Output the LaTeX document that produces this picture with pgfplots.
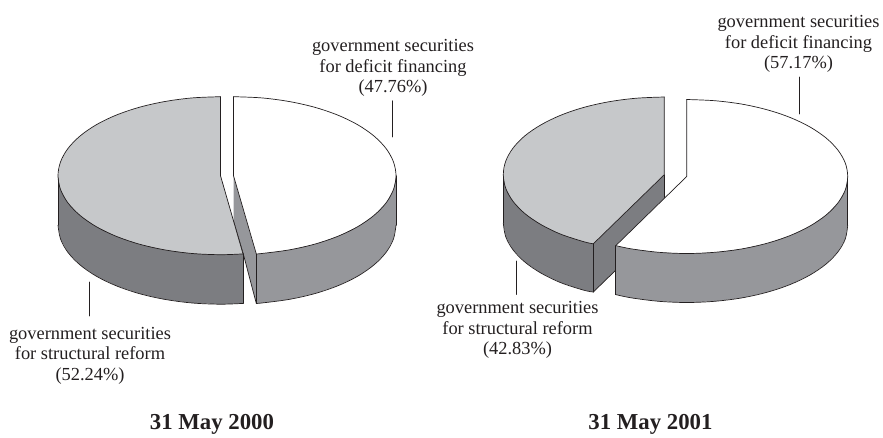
\documentclass[border=0pt]{standalone}
\usepackage{fontspec}
\setmainfont{Liberation Serif}
\usepackage{pgfplots}
\pgfplotsset{compat=1.18}
\definecolor{ink}{HTML}{231F20}
\definecolor{lgray}{HTML}{C6C8CA}
\definecolor{dgray}{HTML}{7C7D81}
\definecolor{mgray}{HTML}{96979B}
\tikzset{edge/.style={line width=0.7pt,color=ink,line join=round,line cap=round},
  lab/.style={align=center,anchor=center,text=ink,inner sep=0pt,font=\fontsize{18.4}{20.5}\selectfont},
  ttl/.style={anchor=base,text=ink,inner sep=0pt,font=\fontsize{22.8}{24}\selectfont\bfseries}}
\newcommand{\face}[2]{\addplot[fill=#1,draw=none,mark=none] coordinates {#2};}
\newcommand{\arc}[1]{\addplot[edge,smooth,tension=0.55,mark=none] coordinates {#1};}
\newcommand{\seg}[1]{\addplot[edge,sharp plot,mark=none] coordinates {#1};}
\begin{document}
\begin{tikzpicture}
\path[use as bounding box] (0,0) rectangle (883pt,437pt);
\begin{axis}[at={(0,0)},anchor=south west,scale only axis,width=883pt,height=437pt,
  xmin=0,xmax=883,ymin=0,ymax=437,y dir=reverse,hide axis,clip=false]

% ---- 31 May 2000: facet of the white slice
\face{mgray}{(233.5,175.7)(256.3,253.9)(256.3,303.4)(243.3,254)(233.5,221)}
\seg{(233.5,221)(243.3,254)(256.3,303.4)}
% gray slice, side
\face{dgray}{(58,175.7)(58,225.2)(60.5,238.9)(67.8,252.2)(79.8,264.7)(96,276)(116,285.7)(139.2,293.6)(164.9,299.4)(192.3,303)(220.5,304.2)(243,303.4)(243,253.9)(220.5,175.7)}
\seg{(58,175.7)(58,225.2)}
\arc{(58,225.2)(60.5,238.9)(67.8,252.2)(79.8,264.7)(96,276)(116,285.7)(139.2,293.6)(164.9,299.4)(192.3,303)(220.5,304.2)(243,303.4)}
\seg{(243,253.9)(243,303.4)}
% gray slice, top
\face{lgray}{(220.5,175.7)(220.5,96.7)(192.3,97.9)(164.9,101.5)(139.2,107.3)(116,115.2)(96,124.9)(79.8,136.2)(67.8,148.7)(60.5,162)(58,175.7)(60.5,189.4)(67.8,202.7)(79.8,215.2)(96,226.5)(116,236.2)(139.2,244.1)(164.9,249.9)(192.3,253.5)(220.5,254.7)(243,253.9)}
\arc{(220.5,96.7)(192.3,97.9)(164.9,101.5)(139.2,107.3)(116,115.2)(96,124.9)(79.8,136.2)(67.8,148.7)(60.5,162)(58,175.7)(60.5,189.4)(67.8,202.7)(79.8,215.2)(96,226.5)(116,236.2)(139.2,244.1)(164.9,249.9)(192.3,253.5)(220.5,254.7)(243,253.9)}
\seg{(220.5,96.7)(220.5,175.7)(243,253.9)}
% white slice, side
\face{mgray}{(396,175.7)(396,225.2)(393.5,238.9)(386.2,252.2)(374.2,264.7)(358,276)(338,285.7)(314.8,293.6)(289.1,299.4)(261.7,303)(256.3,303.4)(256.3,253.9)(233.5,175.7)}
\seg{(396,175.7)(396,225.2)}
\arc{(396,225.2)(393.5,238.9)(386.2,252.2)(374.2,264.7)(358,276)(338,285.7)(314.8,293.6)(289.1,299.4)(261.7,303)(256.3,303.4)}
\seg{(256.3,253.9)(256.3,303.4)}
% white slice, top
\face{white}{(233.5,175.7)(233.5,96.7)(261.7,97.9)(289.1,101.5)(314.8,107.3)(338,115.2)(358,124.9)(374.2,136.2)(386.2,148.7)(393.5,162)(396,175.7)(393.5,189.4)(386.2,202.7)(374.2,215.2)(358,226.5)(338,236.2)(314.8,244.1)(289.1,249.9)(261.7,253.5)(256.3,253.9)}
\arc{(233.5,96.7)(261.7,97.9)(289.1,101.5)(314.8,107.3)(338,115.2)(358,124.9)(374.2,136.2)(386.2,148.7)(393.5,162)(396,175.7)(393.5,189.4)(386.2,202.7)(374.2,215.2)(358,226.5)(338,236.2)(314.8,244.1)(289.1,249.9)(261.7,253.5)(256.3,253.9)}
\seg{(233.5,96.7)(233.5,175.7)(256.3,253.9)}

% ---- 31 May 2001: gray slice, inner facet
\face{dgray}{(664.3,174.7)(593.3,243.8)(593.3,292)(664.3,223)}
\seg{(664.3,174.7)(664.3,223)}
\seg{(593.3,292)(664.3,223)}
% gray slice, side
\face{dgray}{(503.3,174.7)(503.3,223.2)(505.7,236.7)(513,249.8)(524.9,262.1)(541,273.1)(560.8,282.7)(583.8,290.2)(593.3,292)(593.3,243.8)(664.3,174.7)}
\seg{(503.3,174.7)(503.3,223.2)}
\arc{(503.3,223.2)(505.7,236.7)(513,249.8)(524.9,262.1)(541,273.1)(560.8,282.7)(583.8,290.2)(593.3,292)}
\seg{(593.3,243.8)(593.3,292)}
% gray slice, top
\face{lgray}{(664.3,174.7)(664.3,97)(636.4,98.2)(609.2,101.7)(583.8,107.4)(560.8,115.2)(541,124.8)(524.9,135.8)(513,148.1)(505.7,161.2)(503.3,174.7)(505.7,188.2)(513,201.3)(524.9,213.6)(541,224.6)(560.8,234.2)(583.8,241.7)(593.3,243.8)}
\arc{(664.3,97)(636.4,98.2)(609.2,101.7)(583.8,107.4)(560.8,115.2)(541,124.8)(524.9,135.8)(513,148.1)(505.7,161.2)(503.3,174.7)(505.7,188.2)(513,201.3)(524.9,213.6)(541,224.6)(560.8,234.2)(583.8,241.7)(593.3,243.8)}
\seg{(664.3,97)(664.3,174.7)(593.3,243.8)}
% white slice, side
\face{mgray}{(847.7,176.5)(847.7,225.5)(845.3,238.9)(838,251.8)(826.1,264)(810,275)(790.2,284.5)(767.2,292.2)(741.8,297.9)(714.6,301.3)(686.7,302.5)(658.8,301.3)(631.6,297.9)(615.8,294.6)(615.8,245.6)(686.7,176.5)}
\seg{(847.7,176.5)(847.7,225.5)}
\arc{(847.7,225.5)(845.3,238.9)(838,251.8)(826.1,264)(810,275)(790.2,284.5)(767.2,292.2)(741.8,297.9)(714.6,301.3)(686.7,302.5)(658.8,301.3)(631.6,297.9)(615.8,294.6)}
\seg{(615.8,245.6)(615.8,294.6)}
% white slice, top
\face{white}{(686.7,176.5)(686.7,99.5)(714.6,100.7)(741.8,104.1)(767.2,109.8)(790.2,117.5)(810,127)(826.1,138)(838,150.2)(845.3,163.1)(847.7,176.5)(845.3,189.9)(838,202.8)(826.1,215)(810,226)(790.2,235.5)(767.2,243.2)(741.8,248.9)(714.6,252.3)(686.7,253.5)(658.8,252.3)(631.6,248.9)(615.8,245.6)}
\arc{(686.7,99.5)(714.6,100.7)(741.8,104.1)(767.2,109.8)(790.2,117.5)(810,127)(826.1,138)(838,150.2)(845.3,163.1)(847.7,176.5)(845.3,189.9)(838,202.8)(826.1,215)(810,226)(790.2,235.5)(767.2,243.2)(741.8,248.9)(714.6,252.3)(686.7,253.5)(658.8,252.3)(631.6,248.9)(615.8,245.6)}
\seg{(686.7,99.5)(686.7,176.5)(615.8,245.6)}

% ---- leader lines
\seg{(392.5,100.7)(392.5,137)}
\seg{(89.5,282)(89.5,316)}
\seg{(516.7,261)(516.7,294.5)}
\seg{(799,77)(799,114)}

% ---- labels
\node[lab] at (axis cs:393,68) {government securities\\for deficit financing\\(47.76\%)};
\node[lab] at (axis cs:90,355.5) {government securities\\for structural reform\\(52.24\%)};
\node[lab] at (axis cs:517.5,330) {government securities\\for structural reform\\(42.83\%)};
\node[lab] at (axis cs:798.5,44) {government securities\\for deficit financing\\(57.17\%)};
\node[ttl] at (axis cs:212,429) {31 May 2000};
\node[ttl] at (axis cs:650.5,429) {31 May 2001};
\end{axis}
\end{tikzpicture}
\end{document}
